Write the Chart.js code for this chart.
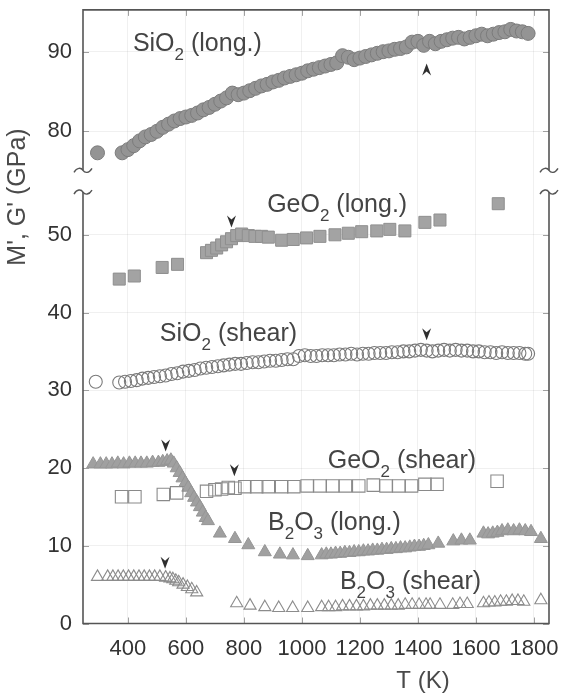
<!DOCTYPE html>
<html>
<head>
<meta charset="utf-8">
<script src="https://cdn.jsdelivr.net/npm/chart.js@4.4.0/dist/chart.umd.min.js"></script>
<style>
  html, body { margin: 0; padding: 0; background: #fff; }
</style>
</head>
<body>
<canvas id="chart" width="562" height="696"></canvas>
<script>
// Axis ticks
const xTicks = [400, 600, 800, 1000, 1200, 1400, 1600, 1800];
const yHighTicks = [80, 90];
const yLowTicks = [0, 10, 20, 30, 40, 50];

// SiO2 longitudinal modulus (upper panel)
const sio2LongT = [295, 380, 400, 420, 440, 460, 480, 500, 520, 540,
  560, 580, 600, 620, 640, 660, 680, 700, 720, 740,
  760, 780, 800, 820, 840, 860, 880, 900, 920, 940,
  960, 980, 1000, 1020, 1040, 1060, 1080, 1100, 1120, 1140,
  1160, 1180, 1200, 1220, 1240, 1260, 1280, 1300, 1320, 1340,
  1360, 1380, 1400, 1420, 1440, 1460, 1480, 1500, 1520, 1540,
  1560, 1580, 1600, 1620, 1640, 1660, 1680, 1700, 1720, 1740,
  1760, 1780];
const sio2LongM = [77.3, 77.3, 77.7, 78.2, 78.8, 79.3, 79.6, 80.0, 80.5, 80.9,
  81.3, 81.6, 81.8, 82.0, 82.3, 82.7, 83.0, 83.4, 83.8, 84.2,
  84.8, 84.6, 84.8, 85.1, 85.4, 85.7, 85.9, 86.2, 86.4, 86.7,
  86.9, 87.1, 87.3, 87.6, 87.8, 88.0, 88.2, 88.4, 88.6, 89.5,
  89.3, 89.0, 89.2, 89.4, 89.6, 89.8, 90.0, 90.1, 90.3, 90.4,
  90.6, 91.2, 91.3, 90.8, 91.3, 91.0, 91.3, 91.5, 91.7, 91.8,
  91.6, 91.8, 92.0, 92.2, 92.0, 92.2, 92.4, 92.5, 92.8, 92.6,
  92.5, 92.3];

// GeO2 longitudinal
const geo2LongT = [370, 422, 518, 571, 671, 688, 706, 723, 740, 757,
  775, 792, 815, 838, 861, 884, 930, 970, 1016, 1062,
  1114, 1160, 1206, 1258, 1303, 1355, 1424, 1476, 1677];
const geo2LongM = [44.3, 44.7, 45.8, 46.2, 47.7, 48.0, 48.3, 48.7, 49.1, 49.5,
  49.9, 50.1, 49.9, 49.8, 49.8, 49.7, 49.3, 49.4, 49.6, 49.8,
  50.0, 50.2, 50.4, 50.5, 50.7, 50.5, 51.6, 51.9, 54.0];

// SiO2 shear
const sio2ShearT = [289, 370, 390, 410, 430, 450, 470, 490, 510, 530,
  550, 570, 590, 610, 630, 650, 670, 690, 710, 730,
  750, 770, 790, 810, 830, 850, 870, 890, 910, 930,
  950, 970, 990, 1010, 1030, 1050, 1070, 1090, 1110, 1130,
  1150, 1170, 1190, 1210, 1230, 1250, 1270, 1290, 1310, 1330,
  1350, 1370, 1390, 1410, 1430, 1450, 1470, 1490, 1510, 1530,
  1550, 1570, 1590, 1610, 1630, 1650, 1670, 1690, 1710, 1730,
  1750, 1770, 1780];
const sio2ShearG = [31.1, 31.0, 31.1, 31.2, 31.3, 31.5, 31.6, 31.7, 31.8, 31.9,
  32.1, 32.2, 32.4, 32.5, 32.6, 32.8, 32.9, 33.0, 33.1, 33.2,
  33.3, 33.4, 33.4, 33.5, 33.6, 33.6, 33.7, 33.8, 33.8, 33.9,
  34.0, 34.0, 34.4, 34.5, 34.4, 34.4, 34.5, 34.5, 34.5, 34.6,
  34.6, 34.7, 34.6, 34.7, 34.7, 34.8, 34.8, 34.8, 34.9, 34.9,
  35.0, 35.0, 35.1, 35.2, 35.1, 35.0, 35.1, 35.2, 35.1, 35.2,
  35.1, 35.1, 35.0, 35.0, 34.9, 34.9, 34.8, 34.9, 34.8, 34.8,
  34.8, 34.7, 34.7];

// GeO2 shear
const geo2ShearT = [378, 424, 522, 568, 671, 700, 723, 746, 769, 803,
  844, 884, 930, 972, 1018, 1062, 1106, 1150, 1196, 1246,
  1290, 1334, 1378, 1424, 1466, 1673];
const geo2ShearG = [16.3, 16.3, 16.6, 16.8, 17.0, 17.2, 17.3, 17.5, 17.4, 17.6,
  17.6, 17.6, 17.6, 17.6, 17.7, 17.7, 17.7, 17.7, 17.7, 17.8,
  17.7, 17.7, 17.7, 17.9, 17.9, 18.3];

// B2O3 longitudinal
const b2o3LongT = [280, 305, 325, 345, 365, 385, 405, 425, 445, 465,
  485, 505, 520, 535, 548, 558, 568, 578, 588, 598,
  608, 618, 628, 638, 648, 658, 668, 676, 717, 769,
  815, 872, 924, 969, 1020, 1068, 1084, 1100, 1116, 1132,
  1148, 1164, 1180, 1196, 1212, 1228, 1244, 1260, 1276, 1292,
  1308, 1324, 1340, 1356, 1372, 1388, 1404, 1420, 1436, 1470,
  1522, 1550, 1579, 1626, 1642, 1658, 1674, 1690, 1710, 1730,
  1750, 1770, 1790, 1824];
const b2o3LongM = [20.5, 20.5, 20.5, 20.5, 20.6, 20.5, 20.6, 20.6, 20.6, 20.6,
  20.7, 20.7, 20.8, 20.9, 21.0, 20.6, 20.0, 19.4, 18.7, 18.1,
  17.5, 16.8, 16.2, 15.6, 15.0, 14.3, 13.6, 13.2, 11.6, 10.9,
  10.1, 9.2, 8.9, 8.8, 8.7, 8.8, 8.9, 8.9, 9.0, 9.0,
  9.1, 9.1, 9.2, 9.2, 9.3, 9.3, 9.4, 9.4, 9.5, 9.5,
  9.6, 9.6, 9.7, 9.7, 9.8, 9.9, 9.9, 10.0, 10.1, 10.3,
  10.6, 10.7, 10.7, 11.6, 11.5, 11.6, 11.7, 11.9, 12.0, 11.9,
  12.0, 11.9, 11.8, 10.9];

// B2O3 shear
const b2o3ShearT = [295, 330, 348, 366, 384, 402, 420, 438, 456, 474,
  492, 510, 530, 545, 555, 565, 575, 590, 605, 620,
  637, 775, 821, 872, 920, 968, 1020, 1068, 1092, 1116,
  1140, 1164, 1188, 1212, 1236, 1260, 1284, 1308, 1332, 1356,
  1380, 1404, 1428, 1442, 1476, 1520, 1545, 1570, 1626, 1645,
  1665, 1685, 1705, 1725, 1745, 1765, 1824];
const b2o3ShearG = [6.0, 6.0, 6.0, 6.0, 6.0, 6.0, 6.0, 6.0, 6.0, 6.0,
  6.0, 6.0, 5.9, 5.8, 5.7, 5.5, 5.3, 5.0, 4.7, 4.4,
  4.0, 2.6, 2.3, 2.1, 2.0, 2.0, 2.0, 2.1, 2.1, 2.1,
  2.2, 2.2, 2.2, 2.2, 2.3, 2.3, 2.3, 2.3, 2.3, 2.4,
  2.4, 2.4, 2.4, 2.4, 2.4, 2.4, 2.5, 2.5, 2.6, 2.7,
  2.7, 2.8, 2.8, 2.9, 2.9, 2.8, 3.0];

// Curve labels (text parts, "_" marks a subscript)
const labelParts = [
  ['SiO', '_2', ' (long.)'],
  ['GeO', '_2', ' (long.)'],
  ['SiO', '_2', ' (shear)'],
  ['GeO', '_2', ' (shear)'],
  ['B', '_2', 'O', '_3', ' (long.)'],
  ['B', '_2', 'O', '_3', ' (shear)']
];
const labelT = [417, 880, 510, 1089, 883, 1131];
const labelV = [90.9, 53.8, 37.2, 20.9, 12.9, 5.3];
const labelAxis = ['yHigh', 'yLow', 'yLow', 'yLow', 'yLow', 'yLow'];

// Arrowheads marking the glass transition
const arrowT = [1430, 757, 1430, 530, 767, 528];
const arrowV = [87.75, 51.7, 37.2, 22.9, 19.7, 7.8];
const arrowAxis = ['yHigh', 'yLow', 'yLow', 'yLow', 'yLow', 'yLow'];
const arrowUp = [true, false, false, false, false, false];

const yTitle = "M', G' (GPa)";
const xTitle = 'T (K)';
const upperAxisEnd = 75.1;

const FONT = "'Liberation Sans', Arial, sans-serif";
Chart.defaults.font.family = FONT;

function pts(t, v) {
    return t.map((x, i) => ({ x: x, y: v[i] }));
}

function drawRich(ctx, parts, x, y, size) {
    let cx = x;
    parts.forEach(p => {
        const sub = p.startsWith('_');
        const t = sub ? p.slice(1) : p;
        ctx.font = (sub ? Math.round(size * 0.66) : size) + 'px ' + FONT;
        ctx.fillText(t, cx, sub ? y + size * 0.45 : y);
        cx += ctx.measureText(t).width;
    });
}

// no extra room for edge labels: the plot area is set by layout padding and axis sizes
function noPadding(s) {
    s.paddingTop = 0;
    s.paddingBottom = 0;
    s.paddingLeft = 0;
    s.paddingRight = 0;
}

const framePlugin = {
    id: 'frame',
    afterDatasetsDraw(chart) {
        const { ctx, chartArea: ca, scales } = chart;
        const x = scales.x, yH = scales.yHigh, yL = scales.yLow;
        const yBreakTop = yH.getPixelForValue(upperAxisEnd);
        const yBreakBottom = yL.top;
        ctx.save();

        // inner tick marks
        ctx.strokeStyle = '#a0a0a0';
        ctx.lineWidth = 1;
        ctx.beginPath();
        xTicks.forEach(v => {
            const px = Math.round(x.getPixelForValue(v)) + 0.5;
            ctx.moveTo(px, ca.bottom); ctx.lineTo(px, ca.bottom - 6);
            ctx.moveTo(px, ca.top); ctx.lineTo(px, ca.top + 6);
        });
        [[yH, yHighTicks], [yL, yLowTicks]].forEach(([s, ticks]) => {
            ticks.forEach(v => {
                const py = Math.round(s.getPixelForValue(v)) + 0.5;
                ctx.moveTo(ca.left, py); ctx.lineTo(ca.left + 6, py);
                ctx.moveTo(ca.right, py); ctx.lineTo(ca.right - 6, py);
            });
        });
        ctx.stroke();

        // frame, broken between the two panels
        ctx.strokeStyle = '#555';
        ctx.lineWidth = 1.6;
        ctx.beginPath();
        ctx.moveTo(ca.left, yBreakTop); ctx.lineTo(ca.left, ca.top);
        ctx.lineTo(ca.right, ca.top); ctx.lineTo(ca.right, yBreakTop);
        ctx.moveTo(ca.left, yBreakBottom); ctx.lineTo(ca.left, ca.bottom);
        ctx.lineTo(ca.right, ca.bottom); ctx.lineTo(ca.right, yBreakBottom);
        ctx.stroke();

        // break marks
        ctx.lineWidth = 1.4;
        [ca.left, ca.right].forEach(bx => {
            [yBreakTop, yBreakBottom].forEach(by => {
                ctx.beginPath();
                ctx.moveTo(bx - 9, by + 2);
                ctx.bezierCurveTo(bx - 6, by - 3, bx - 2, by - 3, bx, by);
                ctx.bezierCurveTo(bx + 2, by + 3, bx + 6, by + 3, bx + 9, by - 2);
                ctx.stroke();
            });
        });

        // curve labels
        ctx.fillStyle = '#444';
        ctx.textBaseline = 'middle';
        ctx.textAlign = 'left';
        labelParts.forEach((parts, i) => {
            const s = scales[labelAxis[i]];
            drawRich(ctx, parts, x.getPixelForValue(labelT[i]), s.getPixelForValue(labelV[i]), 25);
        });

        // arrowheads
        ctx.fillStyle = '#2f2f2f';
        arrowT.forEach((t, i) => {
            const px = x.getPixelForValue(t);
            const py = scales[arrowAxis[i]].getPixelForValue(arrowV[i]);
            const d = arrowUp[i] ? -1 : 1;
            ctx.beginPath();
            ctx.moveTo(px, py + 6 * d);
            ctx.lineTo(px - 4.5, py - 6 * d);
            ctx.lineTo(px, py - 2 * d);
            ctx.lineTo(px + 4.5, py - 6 * d);
            ctx.closePath();
            ctx.fill();
        });

        // axis titles
        ctx.fillStyle = '#4a4a4a';
        ctx.textAlign = 'center';
        ctx.font = '24px ' + FONT;
        ctx.fillText(xTitle, 423, 681);
        ctx.translate(18, 197);
        ctx.rotate(-Math.PI / 2);
        ctx.font = '25px ' + FONT;
        ctx.fillText(yTitle, 0, 0);
        ctx.restore();
    }
};

const gridColor = 'rgba(0,0,0,0.06)';
const tickFont = { size: 22 };

new Chart(document.getElementById('chart'), {
    type: 'scatter',
    data: {
        datasets: [
            {
                label: 'SiO2 (long.)',
                data: pts(sio2LongT, sio2LongM),
                yAxisID: 'yHigh',
                pointStyle: 'circle',
                pointRadius: 7,
                backgroundColor: '#949494',
                borderColor: '#7c7c7c',
                borderWidth: 1
            },
            {
                label: 'GeO2 (long.)',
                data: pts(geo2LongT, geo2LongM),
                yAxisID: 'yLow',
                pointStyle: 'rect',
                pointRadius: 8.5,
                backgroundColor: '#a3a3a3',
                borderColor: '#8f8f8f',
                borderWidth: 1
            },
            {
                label: 'SiO2 (shear)',
                data: pts(sio2ShearT, sio2ShearG),
                yAxisID: 'yLow',
                pointStyle: 'circle',
                pointRadius: 6.5,
                backgroundColor: 'rgba(255,255,255,0)',
                borderColor: '#7a7a7a',
                borderWidth: 1.1
            },
            {
                label: 'GeO2 (shear)',
                data: pts(geo2ShearT, geo2ShearG),
                yAxisID: 'yLow',
                pointStyle: 'rect',
                pointRadius: 8.8,
                backgroundColor: 'rgba(255,255,255,0)',
                borderColor: '#8a8a8a',
                borderWidth: 1.1
            },
            {
                label: 'B2O3 (long.)',
                data: pts(b2o3LongT, b2o3LongM),
                yAxisID: 'yLow',
                pointStyle: 'triangle',
                pointRadius: 7.5,
                backgroundColor: '#a0a0a0',
                borderColor: '#959595',
                borderWidth: 1
            },
            {
                label: 'B2O3 (shear)',
                data: pts(b2o3ShearT, b2o3ShearG),
                yAxisID: 'yLow',
                pointStyle: 'triangle',
                pointRadius: 7,
                backgroundColor: 'rgba(255,255,255,0)',
                borderColor: '#8c8c8c',
                borderWidth: 1.1
            }
        ]
    },
    options: {
        responsive: false,
        animation: false,
        layout: { padding: { left: 0, right: 13, top: 7, bottom: 0 } },
        plugins: {
            legend: { display: false },
            tooltip: { enabled: false }
        },
        scales: {
            x: {
                type: 'linear',
                min: 245,
                max: 1852,
                afterBuildTicks: s => { s.ticks = xTicks.map(v => ({ value: v })); },
                afterFit: s => { s.height = 72.5; noPadding(s); },
                grid: { color: gridColor, drawTicks: false },
                border: { display: false },
                ticks: {
                    color: '#333', font: tickFont, padding: 12, maxRotation: 0, autoSkip: false,
                    callback: v => String(v)
                }
            },
            yLow: {
                type: 'linear',
                position: 'left',
                stack: 'modulus',
                stackWeight: 433.5,
                weight: 0,
                min: 0,
                max: 55.5,
                afterBuildTicks: s => { s.ticks = yLowTicks.map(v => ({ value: v })); },
                afterFit: s => { s.width = 83; noPadding(s); },
                grid: { color: gridColor, drawTicks: false },
                border: { display: false },
                ticks: { color: '#333', font: tickFont, padding: 11, callback: v => String(v) }
            },
            yHigh: {
                type: 'linear',
                position: 'left',
                stack: 'modulus',
                stackWeight: 183,
                weight: 1,
                min: 72.375,
                max: 95.25,
                afterBuildTicks: s => { s.ticks = yHighTicks.map(v => ({ value: v })); },
                afterFit: s => { s.width = 83; noPadding(s); },
                grid: { color: gridColor, drawTicks: false },
                border: { display: false },
                ticks: { color: '#333', font: tickFont, padding: 11, callback: v => String(v) }
            }
        }
    },
    plugins: [framePlugin]
});
</script>
</body>
</html>
